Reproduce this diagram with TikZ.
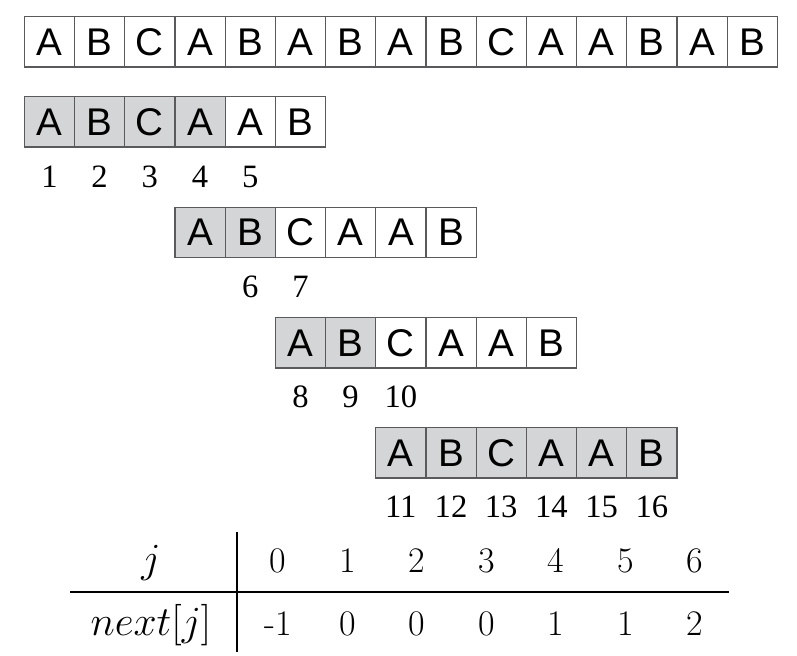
\documentclass[tikz,border=0pt]{standalone}
\usepackage{fontspec}
\newfontfamily\letterfont{Liberation Sans}
\newfontfamily\indexfont{Liberation Serif}
\definecolor{cellgray}{RGB}{212,213,215}
\definecolor{cellline}{RGB}{90,90,92}

\begin{document}
\begin{tikzpicture}
[
    x=0.5pt, y=-0.5pt,
    cell/.style={draw=cellline, line width=0.6pt, minimum size=25.1pt, inner sep=0pt,
        font=\fontsize{19.3}{22}\letterfont},
    idx/.style={inner sep=0pt, font=\fontsize{16.3}{19}\indexfont},
    tab/.style={inner sep=0pt, font=\fontsize{19.3}{23}\selectfont},
    tabnum/.style={inner sep=0pt, font=\fontsize{18}{22}\selectfont},
    rule/.style={line width=0.65pt},
]
\useasboundingbox (0,0) rectangle (797,656);

% text
\foreach \c [count=\i] in {A,B,C,A,B,A,B,A,B,C,A,A,B,A,B}
    \node[cell] (t\i) at ({24.3+50.2*(\i-0.5)},42) {\c};

% first try
\foreach \c/\f [count=\i] in {A/cellgray,B/cellgray,C/cellgray,A/cellgray,A/white,B/white}
    \node[cell, fill=\f] (a\i) at ({24.3+50.2*(\i-0.5)},122) {\c};
\foreach \n/\k in {1/1,2/2,3/3,4/4,5/5}
    \node[idx] (na\n) at ([yshift=-27.4pt]a\k) {\n};

% second try
\foreach \c/\f [count=\i] in {A/cellgray,B/cellgray,C/white,A/white,A/white,B/white}
    \node[cell, fill=\f] (b\i) at ({175+50.2*(\i-0.5)},232.5) {\c};
\foreach \n/\k in {6/2,7/3}
    \node[idx] (nb\n) at ([yshift=-27.2pt]b\k) {\n};

% third try
\foreach \c/\f [count=\i] in {A/cellgray,B/cellgray,C/white,A/white,A/white,B/white}
    \node[cell, fill=\f] (c\i) at ({275.3+50.2*(\i-0.5)},343) {\c};
\foreach \n/\k in {8/1,9/2,10/3}
    \node[idx] (nc\n) at ([yshift=-27pt]c\k) {\n};

% match
\foreach \c [count=\i] in {A,B,C,A,A,B}
    \node[cell, fill=cellgray] (d\i) at ({375.7+50.2*(\i-0.5)},453) {\c};
\foreach \n/\k in {11/1,12/2,13/3,14/4,15/5,16/6}
    \node[idx] (nd\n) at ([yshift=-27pt]d\k) {\n};

% next table
\coordinate (vtop) at (237,532);
\coordinate (vbot) at (237,652);
\coordinate (hleft) at (70,592);
\coordinate (hright) at (729,592);
\draw[rule] (vtop) -- (vbot);
\draw[rule] (hleft) -- (hright);
\node[tab, anchor=base] (jlab) at (151,573) {$j$};
\node[tab, anchor=base] (nextlab) at (151,635) {$next[j]$};
\foreach \j/\val [count=\i] in {0/-1,1/0,2/0,3/0,4/1,5/1,6/2} {
    \node[tabnum, anchor=base] (j\i) at ({278+69.5*(\i-1)},573) {\j};
    \node[tabnum, anchor=base] (next\i) at ({278+69.5*(\i-1)},635) {\val};
}
\end{tikzpicture}
\end{document}
